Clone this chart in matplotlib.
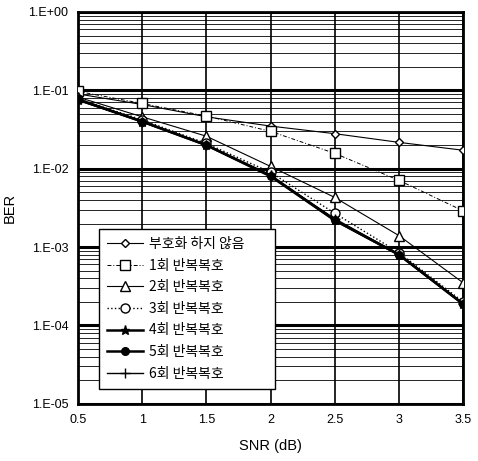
import matplotlib
matplotlib.use("Agg")
import matplotlib.pyplot as plt
import numpy as np
from matplotlib.ticker import LogLocator, FixedLocator

plt.rcParams['font.family'] = ['Liberation Sans', 'Noto Sans CJK KR', 'DejaVu Sans']

snr = [0.5, 1.0, 1.5, 2.0, 2.5, 3.0, 3.5]
labels = ["부호화 하지 않음", "1회 반복복호", "2회 반복복호", "3회 반복복호",
          "4회 반복복호", "5회 반복복호", "6회 반복복호"]
uncoded = [0.090, 0.066, 0.046, 0.035, 0.028, 0.0217, 0.0172]
iter1 = [0.097, 0.068, 0.047, 0.030, 0.0157, 0.0071, 0.0029]
iter2 = [0.082, 0.046, 0.026, 0.0107, 0.0043, 0.0014, 0.00035]
iter3 = [0.078, 0.042, 0.021, 0.0090, 0.0027, 0.00085, 0.00020]
iter4 = [0.076, 0.040, 0.020, 0.0082, 0.0022, 0.00080, 0.000188]
iter5 = [0.077, 0.040, 0.020, 0.0080, 0.0022, 0.00080, 0.000187]
iter6 = [0.075, 0.040, 0.020, 0.0081, 0.0023, 0.00081, 0.000190]
yticks = [1e0, 1e-1, 1e-2, 1e-3, 1e-4, 1e-5]
ytick_labels = ["1.E+00", "1.E-01", "1.E-02", "1.E-03", "1.E-04", "1.E-05"]

fig = plt.figure(figsize=(4.78, 4.61), dpi=100)
ax = fig.add_axes([0.163, 0.124, 0.806, 0.850])

styles = [
    dict(ls='-', marker='D', mfc='white', ms=4.5, lw=0.8),
    dict(ls=(0, (4, 2, 1, 2)), marker='s', mfc='white', ms=6.5, lw=0.7),
    dict(ls='-', marker='^', mfc='white', ms=6.5, lw=0.8),
    dict(ls=':', marker='o', mfc='white', ms=6.5, lw=1.0),
    dict(ls='-', marker='*', mfc='black', ms=6.5, lw=1.8),
    dict(ls='-', marker='o', mfc='black', ms=5.5, lw=1.8),
    dict(ls='-', marker='+', mfc='black', ms=7, lw=1.0),
]
series = [uncoded, iter1, iter2, iter3, iter4, iter5, iter6]
for vals, lab, st in zip(series, labels, styles):
    ax.plot(snr, vals, color='black', mec='black', label=lab, zorder=3, **st)

ax.set_yscale('log')
ax.set_ylim(1e-5, 1e0)
ax.set_xlim(0.5, 3.5)
ax.set_xticks(snr)
ax.set_xticklabels(["0.5", "1", "1.5", "2", "2.5", "3", "3.5"])
ax.yaxis.set_major_locator(FixedLocator(yticks))
ax.set_yticklabels(ytick_labels)
ax.yaxis.set_minor_locator(LogLocator(base=10, subs=np.arange(2, 10)))
ax.yaxis.set_minor_formatter(matplotlib.ticker.NullFormatter())
ax.tick_params(axis='both', which='both', length=0, labelsize=9, pad=7)

ax.grid(True, which='major', axis='y', color='black', lw=2.2)
ax.grid(True, which='minor', axis='y', color='black', lw=0.6)
ax.grid(True, which='major', axis='x', color='black', lw=1.2)
for s in ax.spines.values():
    s.set_linewidth(2.0)

ax.set_xlabel("SNR (dB)", fontsize=10.5, labelpad=10)
ax.set_ylabel("BER", fontsize=10.5, labelpad=8)

leg = ax.legend(loc='lower left', bbox_to_anchor=(0.036, 0.02, 0.494, 0.444),
                mode='expand', frameon=True, fancybox=False,
                edgecolor='black', framealpha=1, handlelength=2.6,
                handletextpad=0.4, borderpad=0.6, labelspacing=0.55,
                prop={'family': ['Noto Sans CJK KR', 'DejaVu Sans'], 'size': 10})
leg.get_frame().set_linewidth(1.0)
leg.set_zorder(5)

fig.savefig("out.png", dpi=100)
